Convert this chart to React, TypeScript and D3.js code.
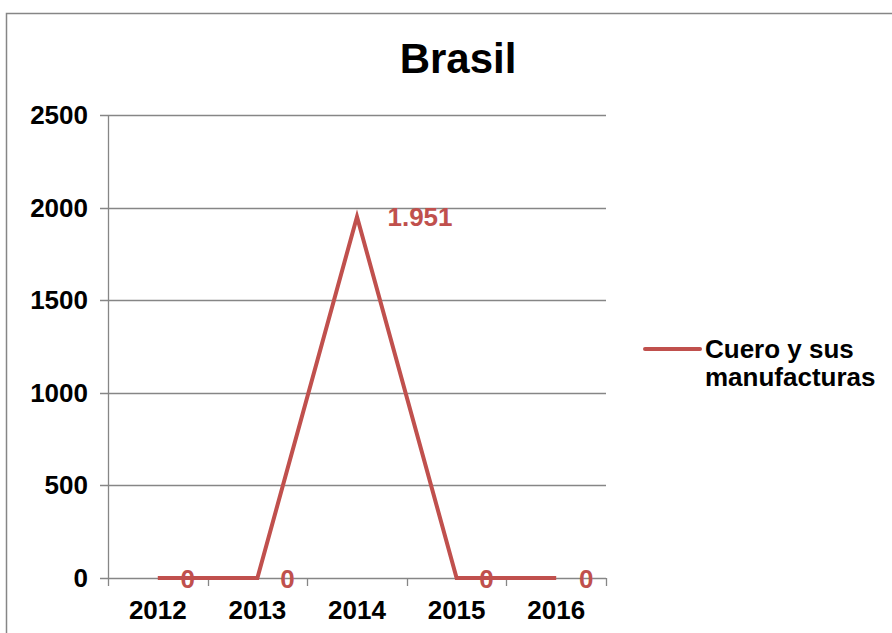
import React from "react";
import * as d3 from "d3";

const categories = ["2012", "2013", "2014", "2015", "2016"];
const values = [0, 0, 1951, 0, 0];
const valueLabels = ["0", "0", "1.951", "0", "0"];
const yTicks = [0, 500, 1000, 1500, 2000, 2500];
const seriesName = ["Cuero y sus", "manufacturas"];
const title = "Brasil";

const W = 892, H = 633;
const left = 108, right = 606, top = 115, bottom = 578;
const red = "#C0504D";
const grid = "#868686";
const font = "Liberation Sans, Arial, sans-serif";

export default function App() {
  const x = d3.scaleBand().domain(categories).range([left, right]);
  const y = d3.scaleLinear().domain([0, 2500]).range([bottom, top]);
  const line = d3
    .line<number>()
    .x((_, i) => (x(categories[i]) as number) + x.bandwidth() / 2)
    .y((d) => y(d));
  const tickXs = [...categories.map((c) => x(c) as number), right];
  return (
    <svg width={W} height={H} style={{ position: "absolute", left: 0, top: 0 }} fontFamily={font}>
      <rect x={0} y={0} width={W} height={H} fill="#fff" />
      <path d={`M6.5,${H} V13.5 H${W}`} fill="none" stroke={grid} strokeWidth={1.5} />
      <text x={458} y={73} textAnchor="middle" fontWeight="bold" fontSize={42}>{title}</text>
      {yTicks.map((t) => (
        <g key={t}>
          <line x1={left - 8} x2={right} y1={Math.round(y(t)) + 0.5} y2={Math.round(y(t)) + 0.5} stroke={grid} strokeWidth={1.3} />
          <text x={88} y={y(t) + 9} textAnchor="end" fontWeight="bold" fontSize={26}>{t}</text>
        </g>
      ))}
      <line x1={left + 0.5} x2={left + 0.5} y1={top} y2={bottom} stroke={grid} strokeWidth={1.3} />
      {tickXs.map((tx, i) => (
        <line key={i} x1={Math.round(tx) + 0.5} x2={Math.round(tx) + 0.5} y1={bottom} y2={bottom + 8} stroke={grid} strokeWidth={1.3} />
      ))}
      {categories.map((c) => (
        <text key={c} x={(x(c) as number) + x.bandwidth() / 2} y={619} textAnchor="middle" fontWeight="bold" fontSize={26}>{c}</text>
      ))}
      <path d={line(values) || ""} fill="none" stroke={red} strokeWidth={4} strokeLinejoin="miter" />
      {values.map((v, i) => (
        <text key={i} x={(x(categories[i]) as number) + x.bandwidth() / 2 + (v > 0 ? 63 : 30)} y={y(v) + (v > 0 ? 9 : 10)} textAnchor="middle" fontWeight="bold" fontSize={26} fill={red}>{valueLabels[i]}</text>
      ))}
      <line x1={645} x2={700} y1={349} y2={349} stroke={red} strokeWidth={4} strokeLinecap="round" />
      <text x={705} y={358} fontWeight="bold" fontSize={26}>{seriesName[0]}</text>
      <text x={705} y={386} fontWeight="bold" fontSize={26}>{seriesName[1]}</text>
    </svg>
  );
}
